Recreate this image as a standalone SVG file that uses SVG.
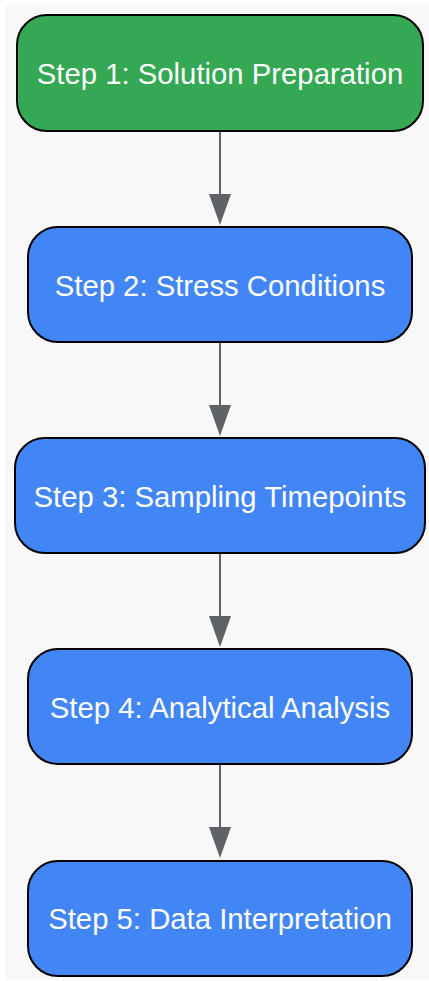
<svg xmlns="http://www.w3.org/2000/svg" width="429" height="981" viewBox="0 0 429 981">
<style>
.node rect{stroke:#000;stroke-width:2}
.node text{font-family:"Liberation Sans",Arial,sans-serif;font-size:29.3px;fill:#fff;text-anchor:middle;dominant-baseline:central}
.edge{stroke:#5f6368;stroke-width:2;fill:none}
.head{fill:#5f6368}
</style>
<rect width="429" height="981" fill="#fff"/>
<rect x="5" y="5" width="424" height="975" fill="#f8f8f8"/>
<g id="connectors">
<line class="edge" x1="220" y1="131" x2="220" y2="194"/>
<path class="head" d="M209,194 L231,194 L220,225 Z"/>
<line class="edge" x1="220" y1="342" x2="220" y2="405"/>
<path class="head" d="M209,405 L231,405 L220,436 Z"/>
<line class="edge" x1="220" y1="553" x2="220" y2="616"/>
<path class="head" d="M209,616 L231,616 L220,647 Z"/>
<line class="edge" x1="220" y1="764" x2="220" y2="827"/>
<path class="head" d="M209,827 L231,827 L220,858 Z"/>
</g>
<g id="step1" class="node"><rect x="17" y="15" width="406" height="116" rx="30" fill="#34a853"/><text x="220" y="73">Step 1: Solution Preparation</text></g>
<g id="step2" class="node"><rect x="28" y="227" width="384" height="115" rx="30" fill="#4285f4"/><text x="220" y="285">Step 2: Stress Conditions</text></g>
<g id="step3" class="node"><rect x="15" y="438" width="410" height="115" rx="30" fill="#4285f4"/><text x="220" y="496">Step 3: Sampling Timepoints</text></g>
<g id="step4" class="node"><rect x="28" y="649" width="384" height="115" rx="30" fill="#4285f4"/><text x="220" y="707">Step 4: Analytical Analysis</text></g>
<g id="step5" class="node"><rect x="28" y="861" width="384" height="115" rx="30" fill="#4285f4"/><text x="220" y="918">Step 5: Data Interpretation</text></g>
</svg>
